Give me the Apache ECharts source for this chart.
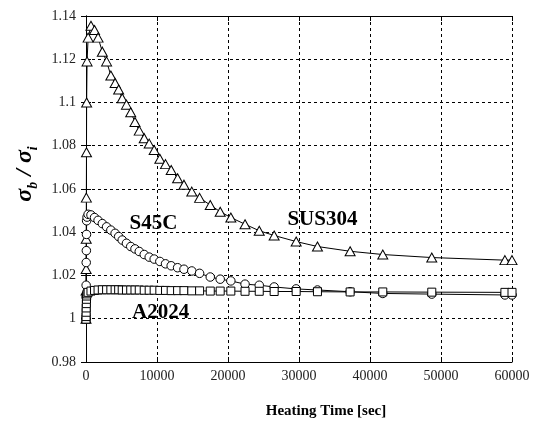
<!DOCTYPE html>
<html>
<head>
<meta charset="utf-8">
<script src="https://cdn.jsdelivr.net/npm/echarts@6/dist/echarts.min.js"></script>
<style>
  html, body { margin: 0; background: #fff; }
  #chart { width: 540px; height: 424px; }
</style>
</head>
<body>
<div id="chart"></div>
<script>
// heating time [sec], shared by all three materials
const time = [0, 10, 20, 30, 50, 70, 90, 150, 300, 700, 1200, 1700, 2300, 2900, 3500, 4100, 4600,
  5100, 5700, 6300, 6900, 7500, 8200, 8900, 9600, 10400, 11200, 12000, 12900, 13800, 14900,
  16000, 17500, 18900, 20400, 22400, 24400, 26500, 29600, 32600, 37200, 41800, 48700, 59000, 60000];

const sus304 = [1.000, 1.013, 1.023, 1.037, 1.056, 1.077, 1.100, 1.119, 1.130, 1.1355, 1.1335, 1.130,
  1.1235, 1.119, 1.1125, 1.109, 1.106, 1.102, 1.099, 1.0955, 1.091, 1.087, 1.0835, 1.081, 1.078,
  1.074, 1.0715, 1.0688, 1.065, 1.062, 1.0588, 1.0559, 1.0526, 1.0495, 1.0468, 1.0437, 1.0407,
  1.0385, 1.0357, 1.0334, 1.0312, 1.0297, 1.0283, 1.0271, 1.0271];

const s45c = [1.000, 1.010, 1.0155, 1.026, 1.0315, 1.039, 1.0453, 1.047, 1.0483, 1.048, 1.0468,
  1.0455, 1.044, 1.0425, 1.041, 1.0395, 1.038, 1.0364, 1.0349, 1.0334, 1.0323, 1.0311, 1.0297,
  1.0285, 1.0276, 1.0265, 1.0254, 1.0245, 1.0236, 1.0229, 1.0221, 1.021, 1.0193, 1.0183, 1.0175,
  1.016, 1.0155, 1.0147, 1.0138, 1.0133, 1.0125, 1.0117, 1.0114, 1.011, 1.011];

const a2024 = [0.9998, 1.001, 1.003, 1.005, 1.007, 1.009, 1.0105, 1.0115, 1.0122, 1.0128, 1.0131,
  1.0133, 1.0134, 1.0134, 1.0134, 1.0134, 1.0134, 1.0133, 1.0133, 1.0133, 1.0133, 1.0133, 1.0132,
  1.0132, 1.0132, 1.0131, 1.0131, 1.013, 1.013, 1.013, 1.0129, 1.0129, 1.0128, 1.0128, 1.0128,
  1.0127, 1.0127, 1.0126, 1.0126, 1.0125, 1.0124, 1.0124, 1.0123, 1.0122, 1.0122];

const serif = "'Liberation Serif', 'DejaVu Serif', serif";

const chart = echarts.init(document.getElementById("chart"));

const pairs = (vals) => time.map((t, i) => [t, vals[i]]);

const lineSeries = (name, symbol, size, vals, at) => ({
  name,
  type: "line",
  symbol,
  symbolSize: size,
  showAllSymbol: true,
  data: pairs(vals),
  lineStyle: { color: "#000", width: 1 },
  itemStyle: { color: "#fff", borderColor: "#000", borderWidth: 1 },
  markPoint: {
    symbol: "circle",
    symbolSize: 1,
    itemStyle: { color: "transparent" },
    label: {
      show: true,
      position: "inside",
      formatter: "{b}",
      color: "#000",
      fontFamily: serif,
      fontWeight: "bold",
      fontSize: 21,
    },
    data: [{ name, coord: at }],
  },
});

const sideAxis = {
  axisLine: { show: true, lineStyle: { color: "#000", width: 1 } },
  axisTick: { show: true, inside: true, length: 5, lineStyle: { color: "#000" } },
  axisLabel: { show: false },
  splitLine: { show: false },
};

chart.setOption({
  animation: false,
  backgroundColor: "#fff",
  grid: { left: 86, right: 28, top: 16, bottom: 58 },
  xAxis: [
    {
      type: "value",
      min: 0,
      max: 60000,
      interval: 10000,
      name: "Heating Time [sec]",
      nameLocation: "middle",
      nameGap: 42,
      nameTextStyle: {
        fontFamily: serif,
        fontWeight: "bold",
        fontSize: 15,
        color: "#000",
        padding: [0, 0, 0, 54],
      },
      axisLine: { show: true, lineStyle: { color: "#000", width: 1 } },
      axisTick: { show: true, inside: true, length: 5, lineStyle: { color: "#000" } },
      axisLabel: { fontFamily: serif, fontSize: 14, color: "#222", margin: 7, formatter: (v) => String(v) },
      splitLine: { show: true, lineStyle: { color: "#000", type: [3, 3], width: 1 } },
    },
    { type: "value", position: "top", min: 0, max: 60000, interval: 10000, ...sideAxis },
  ],
  yAxis: [
    {
      type: "value",
      min: 0.98,
      max: 1.14,
      interval: 0.02,
      axisLine: { show: true, lineStyle: { color: "#000", width: 1 } },
      axisTick: { show: true, inside: true, length: 5, lineStyle: { color: "#000" } },
      axisLabel: {
        fontFamily: serif,
        fontSize: 14,
        color: "#222",
        margin: 10,
        formatter: (v) => String(+v.toFixed(2)),
      },
      splitLine: { show: true, lineStyle: { color: "#000", type: [3, 3], width: 1 } },
    },
    { type: "value", position: "right", min: 0.98, max: 1.14, interval: 0.02, ...sideAxis },
  ],
  graphic: [
    {
      type: "text",
      x: 25,
      y: 174,
      rotation: Math.PI / 2,
      style: {
        text: "{a|σ}{s|b}{a| / σ}{s|i}",
        align: "center",
        verticalAlign: "middle",
        rich: {
          a: { fontFamily: serif, fontWeight: "bold", fontStyle: "italic", fontSize: 24, fill: "#000", lineHeight: 30 },
          s: { fontFamily: serif, fontWeight: "bold", fontStyle: "italic", fontSize: 14, fill: "#000", verticalAlign: "bottom", lineHeight: 20 },
        },
      },
    },
  ],
  series: [
    lineSeries("SUS304", "triangle", [10, 9], sus304, [33300, 1.046]),
    lineSeries("S45C", "circle", 8.5, s45c, [9500, 1.044]),
    lineSeries("A2024", "rect", 8, a2024, [10500, 1.003]),
  ],
});
</script>
</body>
</html>
